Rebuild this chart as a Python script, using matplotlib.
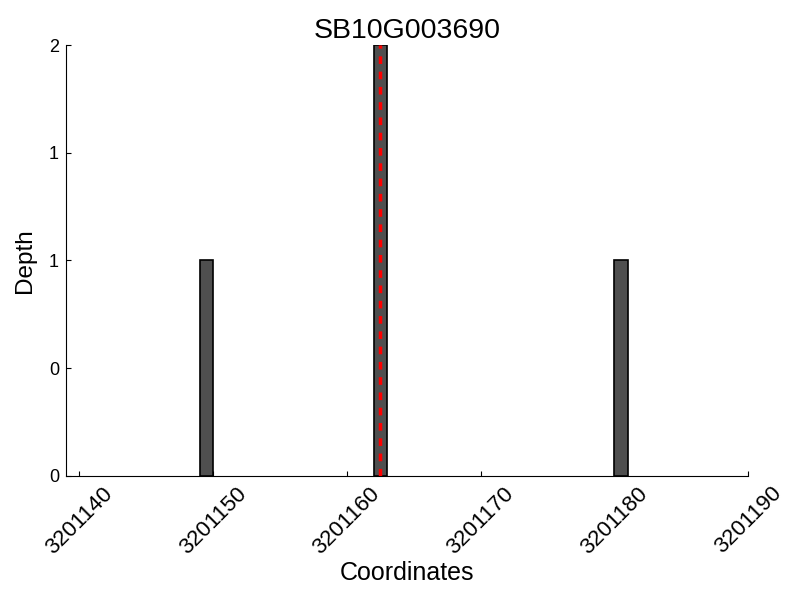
import matplotlib
matplotlib.use("Agg")
import matplotlib.pyplot as plt
from matplotlib.ticker import FormatStrFormatter

plt.rcParams['font.family'] = ['Liberation Sans', 'DejaVu Sans']

gene = "SB10G003690"
positions = [3201149, 3201162, 3201180]
depth = [1, 2, 1]
marker_pos = 3201162.5
xticks = [3201140, 3201150, 3201160, 3201170, 3201180, 3201190]
yticks = [0, 0.5, 1, 1.5, 2]

fig = plt.figure(figsize=(8, 6), dpi=100)
ax = fig.add_axes([0.0825, 0.2067, 0.8525, 0.7183])

ax.bar(positions, depth, width=1, align='edge', color='#4f4f4f',
       edgecolor='black', linewidth=1.2, zorder=2)
ax.plot([marker_pos, marker_pos], [0, max(depth)], color='red',
        linestyle=(0, (2.2, 2.2)), linewidth=2.5, zorder=3)

ax.set_xlim(3201139, 3201190)
ax.set_ylim(0, 2)
ax.set_xticks(xticks)
ax.set_yticks(yticks)
ax.yaxis.set_major_formatter(FormatStrFormatter('%d'))
ax.xaxis.set_major_formatter(FormatStrFormatter('%d'))
ax.tick_params(direction='in', length=3.5, width=0.8)
ax.tick_params(axis='x', labelsize=16, labelrotation=45, pad=5)
ax.tick_params(axis='y', labelsize=13, pad=5)
ax.spines['top'].set_visible(False)
ax.spines['right'].set_visible(False)

ax.set_title(gene, fontsize=20.5, pad=5)
ax.set_xlabel("Coordinates", fontsize=18, labelpad=2)
ax.set_ylabel("Depth", fontsize=17.5, labelpad=9)

fig.savefig("out.png", dpi=100)
